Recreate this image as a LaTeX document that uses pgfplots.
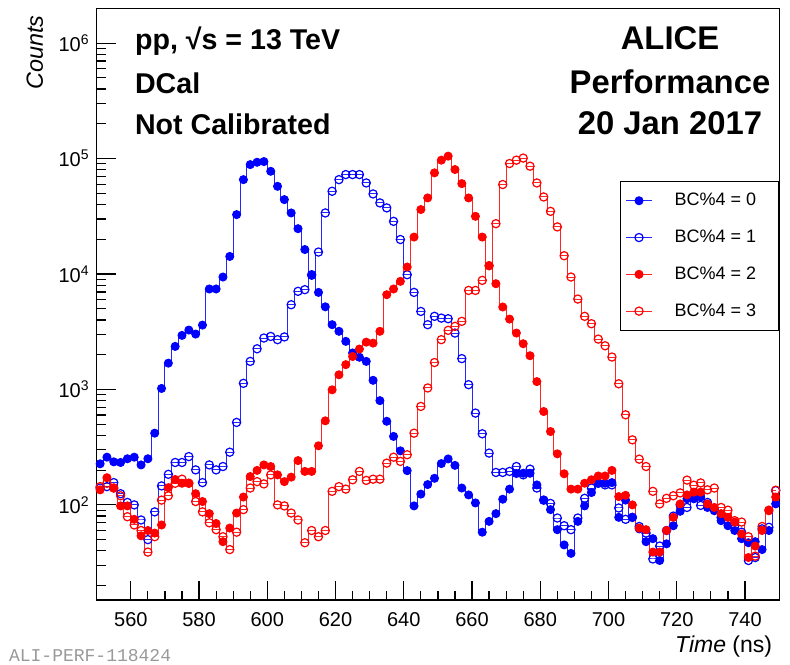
\documentclass[border=0pt]{standalone}
\usepackage{fontspec}
\setmainfont{Liberation Sans}
\newfontfamily\wmfont{Liberation Mono}
\usepackage{pgfplots}
\usepackage{pgfplotstable}
\pgfplotsset{compat=1.18}
\usetikzlibrary{calc}
\definecolor{rblue}{rgb}{0,0,1}
\definecolor{rred}{rgb}{1,0,0}

\pgfplotstableread{
x b0 b1 b2 b3
551 227 140 135 144
553 259 144 172 154
555 236 156 140 140
557 233 125 98 120
559 251 105 98 79
561 259 100 75 67
563 222 74 54 60
565 251 50 60 39
567 418 87 57 53
569 1020 146 67 110
571 1690 184 141 120
573 2360 233 166 154
575 2940 233 154 167
577 3270 262 154 154
579 3020 201 125 107
581 3610 156 107 87
583 7420 222 84 70
585 7420 201 69 61
587 9420 215 48 53
589 14200 286 63 41
591 32700 518 85 58
593 65700 1130 117 91
595 88700 1750 176 140
597 92900 2250 199 159
599 94200 2790 222 152
601 77600 2880 215 182
603 57500 2700 182 100
605 44100 2850 159 98
607 33800 5420 174 85
609 24700 7080 242 74
611 16300 7320 195 47
613 9730 9860 195 60
615 6930 15500 325 53
617 5200 33800 535 60
619 3640 52100 993 131
621 3190 65700 1340 144
623 2610 72700 1640 137
625 2070 72700 1930 165
627 1900 72700 2240 195
629 1750 61500 2570 163
631 1200 49400 2520 167
633 800 41300 3190 167
635 530 37400 6620 230
637 392 28600 7420 259
639 294 19900 8640 238
641 198 9860 11500 272
643 98 6930 20900 418
645 124 4740 36200 713
647 150 3640 45600 1030
649 170 4300 75200 1710
651 228 4150 96900 2700
653 250 4100 105000 3250
655 220 3080 80400 3520
657 140 1850 60700 3890
659 122 1100 45600 7210
661 104 624 31600 7210
663 58 413 20900 8810
665 72 281 11800 11800
667 84 191 8240 27300
669 112 191 5180 59600
671 137 195 4070 90600
673 187 215 3080 96900
675 188 182 2490 101000
677 188 204 1960 85900
679 149 140 1170 61500
681 110 110 644 46500
683 91 103 432 34900
685 61 77 277 25600
687 45 66 186 14400
689 38 61 137 9420
691 72 77 137 6070
693 98 114 154 4300
695 128 140 165 3710
697 154 154 178 2730
699 154 149 178 2390
701 156 149 199 1910
703 78 94 118 1120
705 110 75 121 603
707 78 78 100 366
709 62 65 63 249
711 48 57 61 215
713 51 34 39 131
715 33 44 39 102
717 46 60 60 114
719 66 80 78 120
721 88 100 102 127
723 113 95 122 164
725 113 117 129 148
727 117 99 129 155
729 95 105 102 135
731 89 92 95 140
733 73 78 84 95
735 66 73 78 90
737 60 66 71 73
739 51 58 56 71
741 47 33 35 53
743 48 35 44 36
745 41 62 60 65
747 60 64 89 90
749 102 133 117 134
}\data

\begin{document}
\begin{tikzpicture}
\begin{axis}[
  name=ax, scale only axis, width=341.2pt, height=295.8pt,
  xmin=550, xmax=750, ymode=log, ymin=15, ymax=2e6,
  axis line style={line width=0.6pt},
  tick pos=left, tick align=inside,
  major tick length=9.5pt, minor tick length=4.5pt,
  every tick/.style={black, line width=0.6pt},
  xtick={560,580,...,740}, minor x tick num=3,
  ytick={100,1000,10000,100000,1000000},
  minor ytick={20,30,40,50,60,70,80,90,200,300,400,500,600,700,800,900,2000,3000,4000,5000,6000,7000,8000,9000,20000,30000,40000,50000,60000,70000,80000,90000,200000,300000,400000,500000,600000,700000,800000,900000},
  yticklabels={10\textsuperscript{2},10\textsuperscript{3},10\textsuperscript{4},10\textsuperscript{5},10\textsuperscript{6}},
  /pgf/number format/assume math mode=true,
  ticklabel style={font=\fontsize{10}{12}\selectfont},
  xticklabel style={yshift=-2.5pt},
  legend style={at={(rel axis cs:1,0.708)}, anchor=north east, draw=black, line width=0.6pt, fill=white,
    font=\fontsize{9}{10}\selectfont, inner xsep=2.5pt, inner ysep=5.5pt, row sep=10.4pt,
    nodes={inner sep=0pt, text height=6.5pt, text depth=1.5pt}},
  legend cell align=left,
  /tikz/every odd column/.append style={column sep=11pt},
  legend image code/.code={\draw[mark repeat=2,mark phase=2] plot coordinates {(0pt,0pt) (6.5pt,0pt) (13pt,0pt)};},
]
\addplot[draw=rblue!85!white, line width=0.5pt, const plot mark mid, mark=*, mark size=2pt, mark options={draw=rblue, fill=rblue, solid}] table[x=x,y=b0] {\data};
\addlegendentry{\makebox[49.5pt][l]{BC\%4 = 0}}
\addplot[draw=rblue!85!white, line width=0.5pt, const plot mark mid, mark=o, mark size=2.05pt, mark options={draw=rblue, line width=0.6pt, solid}] table[x=x,y=b1] {\data};
\addlegendentry{\makebox[49.5pt][l]{BC\%4 = 1}}
\addplot[draw=rred!85!white, line width=0.5pt, const plot mark mid, mark=*, mark size=2pt, mark options={draw=rred, fill=rred, solid}] table[x=x,y=b2] {\data};
\addlegendentry{\makebox[49.5pt][l]{BC\%4 = 2}}
\addplot[draw=rred!85!white, line width=0.5pt, const plot mark mid, mark=o, mark size=2.05pt, mark options={draw=rred, line width=0.6pt, solid}] table[x=x,y=b3] {\data};
\addlegendentry{\makebox[49.5pt][l]{BC\%4 = 3}}
\end{axis}
\node[anchor=base west, font=\bfseries\fontsize{14.3}{16}\selectfont] at ($(ax.south west)+(15.65pt,275pt)$) {pp, √s = 13 TeV};
\node[anchor=base west, font=\bfseries\fontsize{14.3}{16}\selectfont] at ($(ax.south west)+(15.65pt,253.35pt)$) {DCal};
\node[anchor=base west, font=\bfseries\fontsize{14.3}{16}\selectfont] at ($(ax.south west)+(15.65pt,232.5pt)$) {Not Calibrated};
\node[anchor=base, font=\bfseries\fontsize{16.4}{18}\selectfont] at ($(ax.south west)+(286.65pt,275pt)$) {ALICE};
\node[anchor=base, font=\bfseries\fontsize{16.4}{18}\selectfont] at ($(ax.south west)+(286.65pt,253.35pt)$) {Performance};
\node[anchor=base, font=\bfseries\fontsize{16.4}{18}\selectfont] at ($(ax.south west)+(286.65pt,232.5pt)$) {20 Jan 2017};
\node[anchor=base east, font=\fontsize{11.5}{13}\selectfont] at ($(ax.south east)+(0pt,-26pt)$) {\textit{Time} (ns)};
\node[rotate=90, anchor=base east, font=\itshape\fontsize{11.7}{13}\selectfont] at ($(ax.south west)+(-26.85pt,295.85pt)$) {Counts};
\node[anchor=base west, font=\wmfont\fontsize{9}{11}\selectfont, text=black!40] at ($(ax.south west)+(-47.35pt,-30.8pt)$) {ALI-PERF-118424};
\pgfresetboundingbox
\path ($(ax.south west)+(-48.35pt,-32pt)$) rectangle ($(ax.south west)+(346.65pt,300pt)$);
\end{tikzpicture}
\end{document}
